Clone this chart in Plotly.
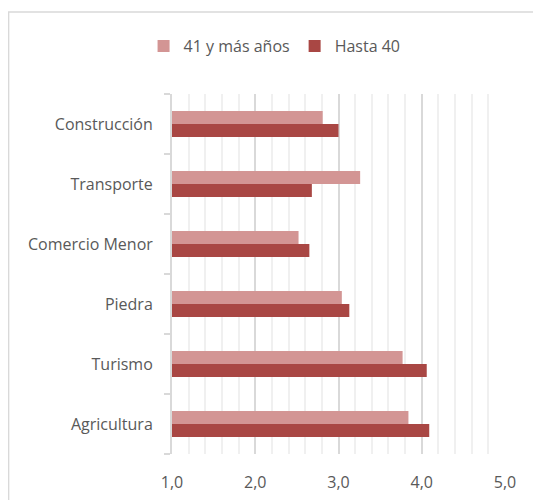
import plotly.graph_objects as go

categories = ["Agricultura", "Turismo", "Piedra", "Comercio Menor", "Transporte", "Construcción"]
mayores_41 = [3.84, 3.77, 3.04, 2.52, 3.26, 2.81]
hasta_40 = [4.09, 4.06, 3.13, 2.65, 2.68, 3.00]
tick_vals = [1, 2, 3, 4, 5]
tick_text = ["1,0", "2,0", "3,0", "4,0", "5,0"]

light = "#D39594"
dark = "#A94744"
txt = "#595959"
FONT = "Open Sans"
FS = 16

# The page body adds an 8px offset, so the figure is laid out 8px smaller.
W, H = 533, 492
L, T = 164, 86
PW, PH = 332.6, 360

bx = (0.8 - L) / PW
by = 1 + (T - 4) / PH

fig = go.Figure()
fig.add_trace(go.Bar(
    y=categories, x=hasta_40, orientation="h", name="Hasta 40",
    marker=dict(color=dark, line=dict(width=0)), legendrank=2,
))
fig.add_trace(go.Bar(
    y=categories, x=mayores_41, orientation="h", name="41 y más años",
    marker=dict(color=light, line=dict(width=0)), legendrank=1,
))

fig.update_layout(
    width=W, height=H,
    margin=dict(l=L, r=W - L - PW, t=T, b=H - T - PH, autoexpand=False),
    paper_bgcolor="white", plot_bgcolor="white",
    barmode="group", bargap=0.565, bargroupgap=0,
    font=dict(family=FONT, size=FS, color=txt),
    legend=dict(orientation="h", x=0.308, xanchor="center", y=1.133, yanchor="middle",
                font=dict(size=FS, color=txt), itemwidth=30, traceorder="normal"),
    xaxis=dict(range=[1, 5], tickvals=tick_vals, ticktext=tick_text,
               showgrid=True, gridcolor="#D9D9D9", gridwidth=2,
               minor=dict(dtick=0.2, tick0=1, showgrid=True, gridcolor="#F0F0F0", gridwidth=2),
               zeroline=False, showline=False, ticks="", ticklabelstandoff=17,
               tickfont=dict(size=FS, color=txt)),
    yaxis=dict(showline=True, linecolor="#D9D9D9", linewidth=2, ticks="outside",
               tickson="boundaries", ticklen=6, tickcolor="#D9D9D9", tickwidth=2,
               showgrid=False, ticklabelstandoff=14,
               tickfont=dict(size=FS, color=txt)),
    shapes=[dict(type="path", xref="paper", yref="paper",
                 path=f"M {bx} -0.5 L {bx} {by} L 1.5 {by}",
                 line=dict(color="#D9D9D9", width=1.5), layer="above")],
)

fig.write_html("out.html")
